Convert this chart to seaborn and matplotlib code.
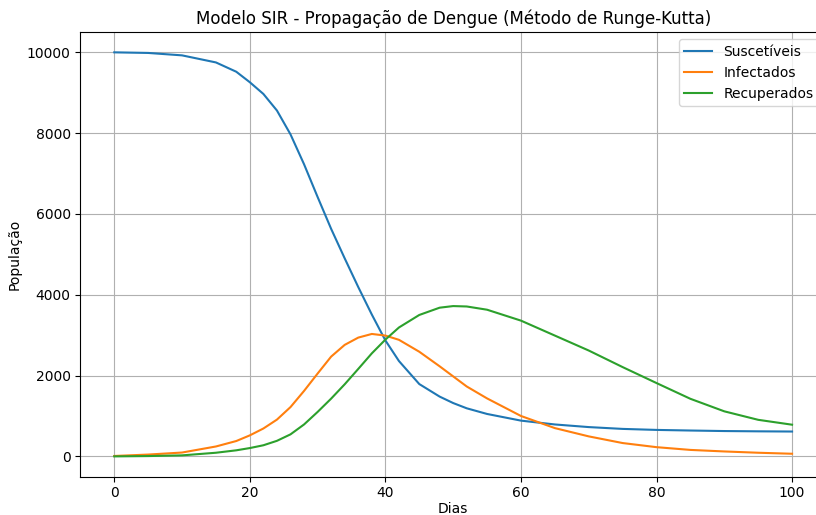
import numpy as np
import pandas as pd
import matplotlib
matplotlib.use('Agg')
import matplotlib.pyplot as plt
import seaborn as sns

## Valores (modelo SIR - dengue)

dias = [0, 5, 10, 15, 18, 20, 22, 24, 26, 28, 30, 32, 34, 36, 38, 40, 42, 45,
        48, 50, 52, 55, 60, 65, 70, 75, 80, 85, 90, 95, 100]

suscetiveis = [10000, 9985, 9925, 9750, 9520, 9260, 8970, 8560, 7970, 7230, 6420,
               5630, 4900, 4190, 3510, 2870, 2360, 1790, 1480, 1320, 1190, 1050,
               885, 790, 725, 680, 655, 640, 627, 620, 615]

infectados = [10, 45, 95, 245, 380, 520, 690, 910, 1220, 1620, 2050, 2470, 2760,
              2940, 3030, 2990, 2885, 2590, 2230, 1980, 1730, 1435, 1000, 700, 495,
              330, 228, 160, 122, 90, 65]

recuperados = [0, 8, 25, 90, 150, 206, 275, 385, 545, 790, 1100, 1430, 1785, 2165,
               2550, 2890, 3190, 3500, 3680, 3720, 3710, 3630, 3360, 2990, 2620,
               2210, 1815, 1425, 1115, 905, 784]

df = pd.DataFrame({'Dias': dias, 'S': suscetiveis, 'I': infectados, 'R': recuperados})

fig = plt.figure(figsize=(8.16, 5.15), dpi=100)
ax = fig.add_axes([0.0985, 0.0746, 0.9137, 0.863])

sns.lineplot(data=df, x='Dias', y='S', ax=ax, color='#1f77b4', label='Suscetíveis')
sns.lineplot(data=df, x='Dias', y='I', ax=ax, color='#ff7f0e', label='Infectados')
sns.lineplot(data=df, x='Dias', y='R', ax=ax, color='#2ca02c', label='Recuperados')

ax.set_title('Modelo SIR - Propagação de Dengue (Método de Runge-Kutta)')
ax.set_xlabel('Dias', labelpad=1)
ax.set_ylabel('População')
ax.grid(True)
ax.legend(loc='upper right')

fig.savefig('out.png', dpi=100)
